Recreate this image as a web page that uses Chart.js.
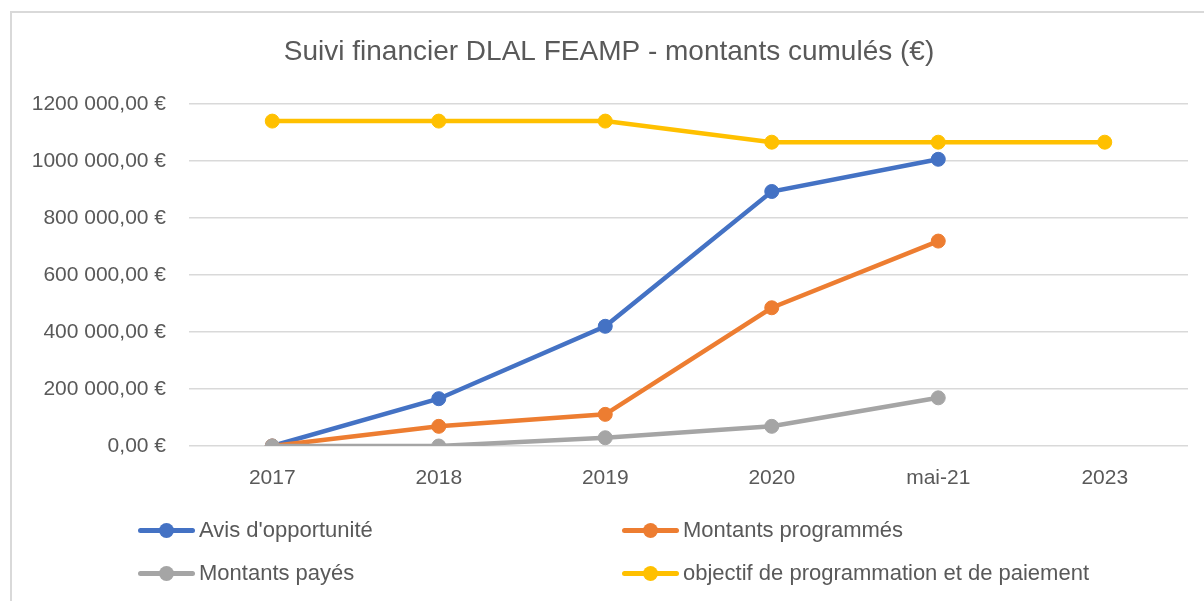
<!DOCTYPE html>
<html>
<head>
<meta charset="utf-8">
<script src="https://cdn.jsdelivr.net/npm/chart.js@4"></script>
<style>
  body { margin: 0; background: #fff; font-family: "Liberation Sans", Arial, sans-serif; }
  #wrap { position: relative; width: 1204px; height: 601px; overflow: hidden; }
  #frame { position: absolute; left: 10px; top: 11px; width: 1300px; height: 700px;
           border-left: 2px solid #d9d9d9; border-top: 2px solid #d9d9d9; }
  #chart { position: absolute; left: 0; top: 0; }
  .item { position: absolute; display: flex; align-items: center; height: 30px;
          font-size: 22px; color: #595959; white-space: nowrap; }
  .mark { position: relative; width: 57px; height: 5px; border-radius: 3px; margin-right: 4px; }
  .mark span { position: absolute; left: 21px; top: -5px; width: 15px; height: 15px; border-radius: 50%; }
</style>
</head>
<body>
<div id="wrap">
  <div id="frame"></div>
  <canvas id="chart" width="1204" height="601"></canvas>
  <div id="legend"></div>
</div>
<script>
const categories = ["2017", "2018", "2019", "2020", "mai-21", "2023"];
const avisOpportunite = [0, 166000, 420000, 893000, 1006000, null];
const montantsProgrammes = [0, 69000, 111000, 485000, 719000, null];
const montantsPayes = [0, 0, 29000, 69000, 169000, null];
const objectif = [1140000, 1140000, 1140000, 1066000, 1066000, 1066000];

const seriesNames = ["Avis d'opportunité", "Montants programmés", "Montants payés", "objectif de programmation et de paiement"];
const seriesColors = ["#4472C4", "#ED7D31", "#A5A5A5", "#FFC000"];
const seriesValues = [avisOpportunite, montantsProgrammes, montantsPayes, objectif];

const FONT = "'Liberation Sans', Arial, sans-serif";

function euro(v) {
  const head = Math.floor(v / 1000);
  const tail = v % 1000;
  if (head > 0) return head + " " + String(tail).padStart(3, "0") + ",00 €";
  return tail + ",00 €";
}

const datasets = seriesValues.map((vals, i) => ({
  label: seriesNames[i],
  data: vals,
  borderColor: seriesColors[i],
  backgroundColor: seriesColors[i],
  pointBackgroundColor: seriesColors[i],
  pointBorderColor: seriesColors[i],
  borderWidth: 4.5,
  pointRadius: 7,
  pointBorderWidth: 1,
  tension: 0,
  order: seriesValues.length - i
}));

const chart = new Chart(document.getElementById("chart"), {
  type: "line",
  data: { labels: categories, datasets: datasets },
  options: {
    responsive: false,
    animation: false,
    layout: { padding: { left: 30, right: 16, top: 0, bottom: 105 } },
    plugins: {
      legend: { display: false },
      tooltip: { enabled: false },
      title: {
        display: true,
        text: "Suivi financier DLAL FEAMP - montants cumulés (€)",
        color: "#595959",
        font: { family: FONT, size: 28, weight: "normal" },
        padding: { top: 35, bottom: 35.4 }
      }
    },
    scales: {
      x: {
        offset: true,
        grid: { display: false },
        border: { display: false },
        ticks: { color: "#595959", font: { family: FONT, size: 21 }, padding: 12 },
        afterFit: s => { s.height = 50; }
      },
      y: {
        min: 0,
        max: 1200000,
        grid: { color: "#d9d9d9", lineWidth: 1.5, drawTicks: false },
        border: { display: false },
        ticks: { stepSize: 200000, color: "#595959", font: { family: FONT, size: 21 }, padding: 23, callback: v => euro(v) },
        afterFit: s => { s.width = 159; }
      }
    }
  }
});

// legend in two columns, built from the chart datasets
const legend = document.getElementById("legend");
chart.data.datasets.forEach((ds, i) => {
  const item = document.createElement("div");
  item.className = "item";
  item.style.left = (138 + (i % 2) * 484) + "px";
  item.style.top = (515 + Math.floor(i / 2) * 43) + "px";
  item.innerHTML = `<div class="mark" style="background:${ds.borderColor}"><span style="background:${ds.borderColor}"></span></div>${ds.label}`;
  legend.appendChild(item);
});
</script>
</body>
</html>
